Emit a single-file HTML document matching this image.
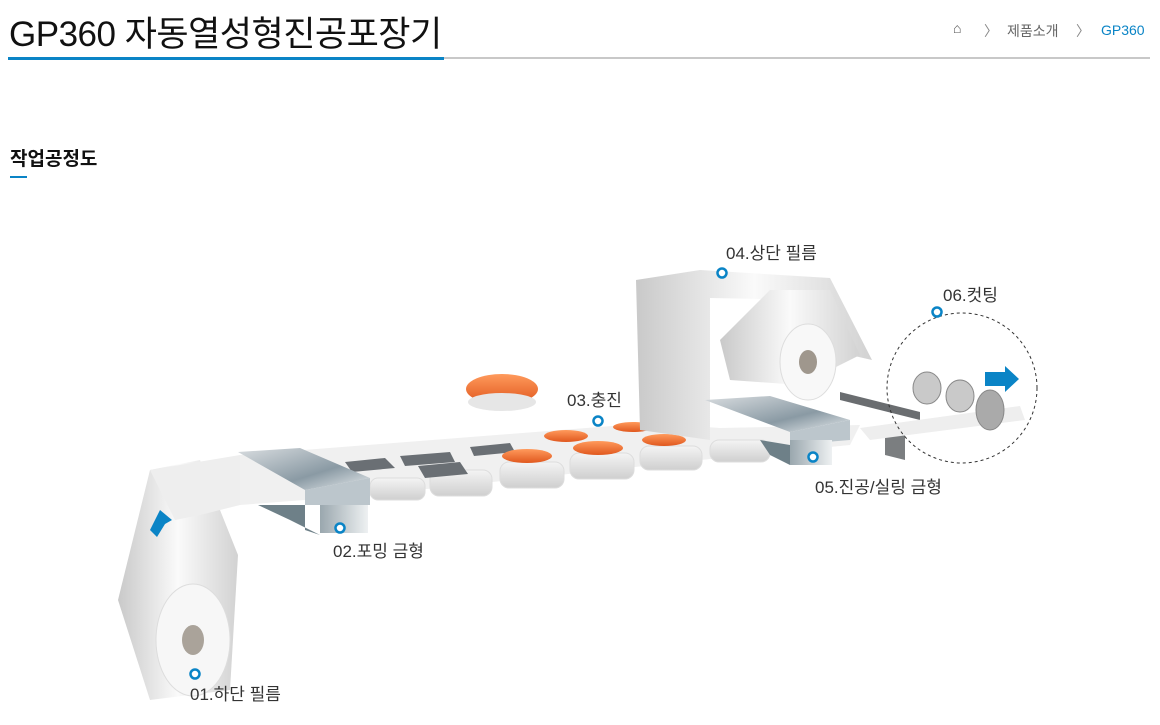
<!DOCTYPE html>
<html><head><meta charset="utf-8"><style>
body{margin:0;width:1160px;height:725px;background:#fff;overflow:hidden;font-family:"Liberation Sans","Noto Sans CJK KR",sans-serif;position:relative}
.t{position:absolute;white-space:nowrap}
</style></head><body>
<div class="t" style="left:9px;top:6px;font-size:35px;color:#111;letter-spacing:-0.5px">GP360 자동열성형진공포장기</div>
<div style="position:absolute;left:8px;top:57px;width:436px;height:3px;background:#0a84c6"></div>
<div style="position:absolute;left:444px;top:57px;width:706px;height:2px;background:#c8c8c8"></div>
<div class="t" style="left:953px;top:20px;font-size:14px;color:#555">⌂</div>
<div class="t" style="left:984px;top:21px;font-size:14px;color:#888">〉</div>
<div class="t" style="left:1007px;top:21px;font-size:14px;color:#666">제품소개</div>
<div class="t" style="left:1076px;top:21px;font-size:14px;color:#888">〉</div>
<div class="t" style="left:1101px;top:22px;font-size:14px;color:#0a84c6">GP360</div>
<div class="t" style="left:10px;top:144px;font-size:19px;font-weight:bold;color:#111">작업공정도</div>
<div style="position:absolute;left:10px;top:176px;width:17px;height:2px;background:#0a84c6"></div>

<svg style="position:absolute;left:0;top:0" width="1160" height="725">
<defs>
<linearGradient id="w" x1="0" y1="0" x2="1" y2="0"><stop offset="0" stop-color="#c9c9c9"/><stop offset=".5" stop-color="#fafafa"/><stop offset="1" stop-color="#d2d2d2"/></linearGradient>
<linearGradient id="wv" x1="0" y1="0" x2="0" y2="1"><stop offset="0" stop-color="#f4f4f4"/><stop offset="1" stop-color="#cfcfcf"/></linearGradient>
<linearGradient id="m" x1="0" y1="0" x2="1" y2="1"><stop offset="0" stop-color="#d9dde0"/><stop offset=".6" stop-color="#8a9aa4"/><stop offset="1" stop-color="#e8ecee"/></linearGradient>
<linearGradient id="mf" x1="0" y1="0" x2="1" y2="0"><stop offset="0" stop-color="#9aa7ae"/><stop offset="1" stop-color="#eef1f2"/></linearGradient>
<linearGradient id="s" x1="0" y1="0" x2="0" y2="1"><stop offset="0" stop-color="#ff9a5c"/><stop offset="1" stop-color="#e0581e"/></linearGradient>
</defs>
<!-- bottom roll & film -->
<polygon points="118,600 150,470 200,460 238,555 230,690 150,700" fill="url(#w)"/>
<polygon points="150,470 180,465 240,455 240,505 200,515 175,520" fill="#eeeeee"/>
<ellipse cx="193" cy="640" rx="37" ry="56" fill="#f7f7f7" stroke="#ddd"/>
<ellipse cx="193" cy="640" rx="11" ry="15" fill="#aaa39a"/>
<polygon points="150,530 160,510 172,520 165,524 157,537" fill="#0a84c6"/>
<!-- belt sheet -->
<polygon points="240,455 650,423 720,428 860,425 850,445 720,458 370,495 240,505" fill="#f0f0f0"/>
<!-- trays -->
<g fill="url(#wv)" stroke="#ddd">
<rect x="370" y="478" width="55" height="22" rx="8"/><rect x="430" y="470" width="62" height="26" rx="9"/>
<rect x="500" y="462" width="64" height="26" rx="9"/><rect x="570" y="453" width="64" height="26" rx="9"/>
<rect x="640" y="446" width="62" height="24" rx="9"/><rect x="710" y="440" width="60" height="22" rx="9"/>
</g>
<!-- cavities -->
<g fill="#6a6f74">
<polygon points="345,462 385,458 395,468 352,472"/><polygon points="400,456 450,452 455,462 405,466"/>
<polygon points="418,466 460,462 468,474 425,478"/><polygon points="470,447 510,443 515,452 474,456"/>
</g>
<g fill="url(#s)">
<ellipse cx="527" cy="456" rx="25" ry="7"/><ellipse cx="598" cy="448" rx="25" ry="7"/><ellipse cx="664" cy="440" rx="22" ry="6"/>
<ellipse cx="566" cy="436" rx="22" ry="6"/><ellipse cx="633" cy="427" rx="20" ry="5"/>
</g>
<ellipse cx="502" cy="389" rx="36" ry="15" fill="url(#s)"/>
<ellipse cx="502" cy="402" rx="34" ry="9" fill="#e6e6e6"/>
<!-- forming die -->
<polygon points="238,452 300,448 370,478 305,490" fill="url(#m)"/>
<polygon points="305,490 370,478 370,505 305,505" fill="#bcc6cc"/>
<polygon points="258,505 305,505 305,530 320,535 290,520" fill="#6e8088"/>
<rect x="320" y="505" width="48" height="28" fill="url(#mf)"/>
<!-- upper frame -->
<polygon points="636,280 700,270 830,278 872,360 850,355 810,300 710,298 710,440 640,430" fill="url(#w)"/>
<polygon points="720,340 770,290 830,290 860,355 800,385 730,380" fill="url(#w)"/>
<ellipse cx="808" cy="362" rx="28" ry="38" fill="#f8f8f8" stroke="#ddd"/>
<ellipse cx="808" cy="362" rx="9" ry="12" fill="#9f978d"/>
<!-- sealing die -->
<polygon points="705,400 770,396 850,420 790,432" fill="url(#m)"/>
<polygon points="790,432 850,420 850,440 790,445" fill="#bcc6cc"/>
<polygon points="760,440 790,445 790,465 770,455" fill="#6e8088"/>
<rect x="790" y="440" width="42" height="25" fill="url(#mf)"/>
<!-- cutter -->
<polygon points="840,392 920,412 920,420 840,400" fill="#6a6d70"/>
<polygon points="885,425 905,430 905,460 885,455" fill="#7b7e80"/>
<polygon points="860,428 1020,406 1025,420 870,440" fill="#eeeeee"/>
<!-- eggs -->
<g fill="#c9c9c9" stroke="#888"><ellipse cx="927" cy="388" rx="14" ry="16"/><ellipse cx="960" cy="396" rx="14" ry="16"/><ellipse cx="990" cy="410" rx="14" ry="20" fill="#aaa"/></g>
<circle cx="962" cy="388" r="75" fill="none" stroke="#333" stroke-dasharray="3,3"/>
<polygon points="985,372 1005,372 1005,366 1019,379 1005,392 1005,386 985,386" fill="#0a84c6"/>
<!-- markers -->
<g fill="#fff" stroke="#0a84c6" stroke-width="2.5">
<circle cx="195" cy="674" r="4.5"/><circle cx="340" cy="528" r="4.5"/><circle cx="598" cy="421" r="4.5"/>
<circle cx="722" cy="273" r="4.5"/><circle cx="937" cy="312" r="4.5"/><circle cx="813" cy="457" r="4.5"/>
</g>
<g font-size="17" fill="#333" font-family="Liberation Sans, Noto Sans CJK KR, sans-serif">
<text x="190" y="700">01.하단 필름</text><text x="333" y="557">02.포밍 금형</text>
<text x="567" y="406">03.충진</text><text x="726" y="259">04.상단 필름</text>
<text x="943" y="301">06.컷팅</text><text x="815" y="493">05.진공/실링 금형</text>
</g>
</svg>
</body></html>
